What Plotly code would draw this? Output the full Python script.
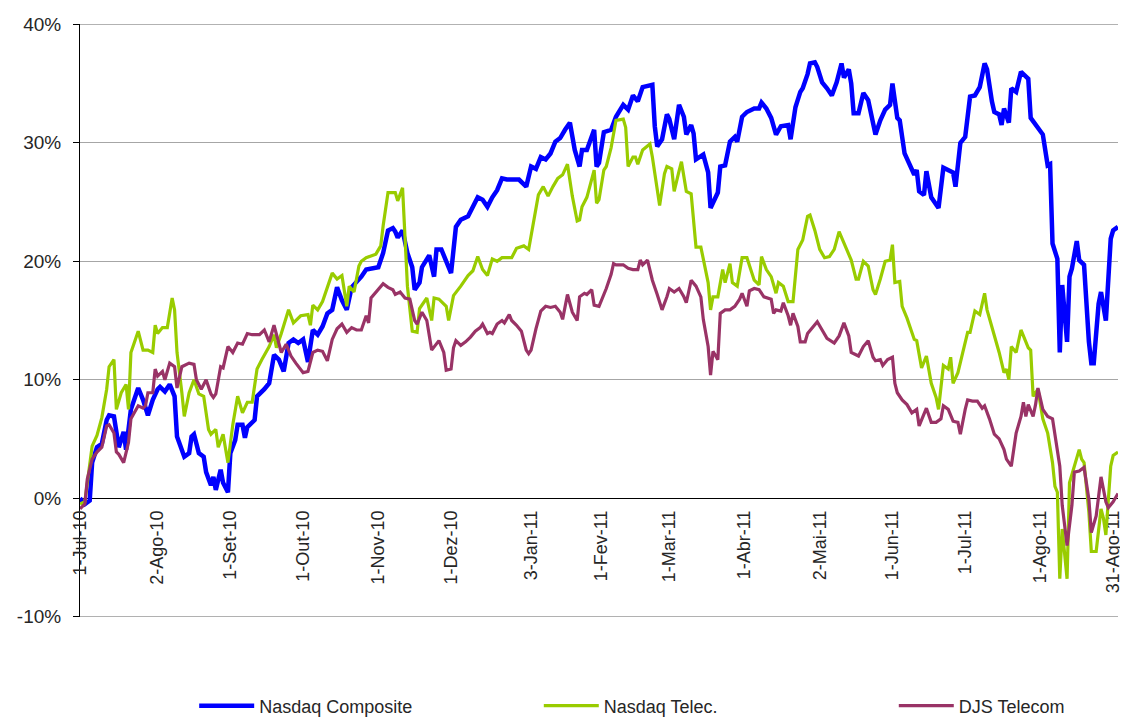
import datetime as dt
import plotly.graph_objects as go

START = dt.date(2010, 7, 1)

# ---------------- data (day offsets since 1-Jul-10, cumulative return in %) ----------------
composite_days = [
    0, 2, 4, 5, 7, 9, 11, 12, 14, 16,
    18, 19, 21, 24, 26, 28, 30, 32, 33, 35,
    37, 39, 40, 42, 43, 45, 46, 47, 49, 51,
    52, 54, 55, 56, 58, 59, 61, 62, 64, 65,
    67, 68, 69, 72, 73, 76, 78, 80, 82, 84,
    86, 88, 90, 92, 94, 96, 98, 100, 102, 104,
    106, 108, 110, 112, 114, 116, 118, 121, 123, 125,
    127, 129, 130, 131, 133, 135, 137, 138, 140, 141,
    144, 146, 147, 149, 151, 153, 155, 157, 160, 162,
    164, 166, 168, 170, 172, 174, 176, 179, 181, 184,
    186, 188, 190, 192, 194, 196, 198, 200, 202, 204,
    206, 207, 209, 212, 213, 214, 216, 219, 221, 224,
    226, 228, 230, 232, 236, 237, 238, 240, 242, 243,
    245, 247, 249, 250, 252, 253, 254, 257, 259, 260,
    262, 263, 264, 266, 268, 270, 271, 273, 275, 278,
    280, 281, 283, 285, 287, 289, 292, 293, 295, 297,
    298, 300, 301, 303, 304, 306, 308, 310, 312, 314,
    315, 317, 318, 319, 321, 323, 325, 327, 328, 330,
    332, 334, 335, 337, 338, 340, 342, 344, 345, 346,
    348, 349, 351, 353, 354, 356, 358, 360, 361, 363,
    365, 367, 369, 371, 373, 374, 376, 377, 379, 380,
    381, 383, 384, 386, 388, 391, 392, 393, 396, 397,
    399, 400, 401, 403, 404, 405, 407, 408, 409, 411,
    412, 414, 416, 417, 418, 420, 421, 423, 425, 426,
    428,
]
nasdaq_composite = [
    0.0, -0.5, -0.2, 3.0, 4.3, 4.6, 6.6, 7.0, 6.9, 4.3,
    5.6, 4.1, 7.5, 9.3, 8.3, 7.0, 8.3, 9.2, 9.4, 9.0,
    9.6, 8.6, 5.2, 4.1, 3.5, 3.8, 5.2, 5.4, 3.8, 3.5,
    2.2, 1.1, 1.8, 0.7, 2.4, 1.3, 0.5, 3.8, 4.9, 6.2,
    6.2, 5.1, 6.0, 6.6, 8.6, 9.2, 9.7, 12.1, 11.7, 10.7,
    13.1, 13.4, 13.1, 13.4, 11.5, 14.2, 13.8, 14.5, 15.6, 15.9,
    17.8, 16.7, 15.9, 17.8, 18.2, 18.7, 19.3, 19.4, 19.5, 20.7,
    22.6, 22.8, 22.5, 22.0, 22.6, 20.7, 19.5, 17.6, 18.2, 19.5,
    20.5, 18.7, 21.0, 21.0, 20.1, 19.0, 22.9, 23.5, 23.8, 24.6,
    25.4, 25.2, 24.6, 25.4, 26.0, 27.0, 26.9, 26.9, 26.9, 26.3,
    28.0, 27.8, 28.8, 28.6, 29.1, 30.1, 30.4, 31.1, 31.7, 29.4,
    28.0, 29.4, 29.4, 31.1, 28.0, 28.3, 30.9, 31.1, 32.2, 33.2,
    32.8, 34.0, 33.5, 34.7, 34.9, 31.4, 29.7, 30.3, 32.4, 32.0,
    30.3, 33.2, 32.2, 30.7, 31.5, 30.8, 28.6, 29.0, 27.5, 24.5,
    25.4, 25.8, 28.0, 28.1, 30.1, 30.5, 30.1, 32.2, 32.6, 32.9,
    32.9, 33.4, 32.9, 32.1, 30.7, 31.4, 31.5, 30.3, 33.0, 34.3,
    34.6, 35.8, 36.7, 36.8, 36.4, 35.1, 34.6, 34.0, 35.1, 36.7,
    35.5, 36.2, 35.0, 32.5, 32.5, 34.2, 33.6, 31.7, 30.7, 31.9,
    32.8, 33.2, 35.0, 32.1, 31.9, 29.1, 28.3, 27.3, 27.7, 25.9,
    25.6, 27.6, 25.4, 24.8, 24.5, 27.9, 27.7, 27.5, 26.3, 30.0,
    30.5, 33.9, 34.0, 34.7, 36.7, 36.2, 33.5, 32.6, 32.4, 31.5,
    32.9, 31.7, 34.6, 34.3, 36.0, 35.4, 32.1, 31.8, 31.0, 30.7,
    28.1, 28.2, 21.5, 20.2, 12.3, 18.0, 13.2, 18.7, 19.4, 21.7,
    20.1, 19.7, 13.2, 11.4, 11.4, 16.4, 17.4, 15.0, 21.9, 22.6,
    22.9,
]

telec_days = [
    0, 2, 5, 7, 9, 11, 12, 14, 15, 17,
    19, 20, 21, 24, 26, 28, 30, 31, 32, 34,
    36, 38, 39, 40, 42, 43, 45, 47, 49, 51,
    53, 54, 56, 57, 59, 61, 63, 65, 67, 69,
    71, 73, 75, 78, 80, 81, 83, 86, 88, 91,
    94, 95, 96, 98, 100, 102, 104, 106, 108, 110,
    111, 113, 115, 116, 118, 122, 124, 125, 127, 129,
    130, 131, 133, 134, 135, 137, 139, 140, 143, 145,
    146, 148, 151, 152, 154, 157, 160, 162, 164, 166,
    168, 170, 172, 174, 178, 180, 183, 185, 187, 189,
    191, 193, 195, 197, 199, 201, 203, 205, 206, 207,
    209, 212, 213, 214, 216, 217, 219, 221, 224, 225,
    226, 228, 229, 230, 232, 235, 236, 238, 239, 241,
    242, 244, 245, 247, 248, 250, 252, 254, 256, 259,
    260, 261, 263, 265, 266, 268, 269, 271, 272, 273,
    275, 278, 280, 281, 283, 285, 287, 288, 290, 292,
    294, 296, 298, 300, 301, 303, 305, 307, 309, 311,
    313, 315, 318, 320, 321, 323, 325, 327, 328, 330,
    332, 334, 335, 336, 338, 339, 341, 344, 345, 347,
    349, 351, 353, 354, 356, 358, 359, 360, 362, 364,
    366, 367, 369, 371, 373, 374, 377, 379, 381, 382,
    383, 384, 386, 388, 391, 392, 393, 395, 397, 399,
    401, 402, 403, 404, 405, 407, 408, 410, 412, 413,
    414, 416, 417, 419, 421, 422, 423, 425, 426, 428,
]
nasdaq_telec = [
    -0.5, -0.3, 4.4, 5.3, 6.8, 9.2, 11.1, 11.7, 7.5, 8.9,
    9.6, 7.5, 12.3, 14.1, 12.5, 12.5, 12.3, 14.6, 13.9, 14.4,
    14.4, 16.9, 15.9, 12.3, 8.9, 6.9, 8.9, 10.0, 8.8, 8.6,
    5.8, 5.4, 5.8, 4.3, 5.4, 3.0, 6.2, 8.6, 7.2, 8.1,
    8.1, 10.9, 11.7, 12.8, 13.8, 12.7, 13.9, 15.9, 14.8, 15.4,
    15.5, 14.6, 16.3, 15.9, 16.6, 17.9, 19.0, 18.5, 18.8, 16.2,
    17.9, 17.4, 19.6, 20.0, 20.3, 20.6, 21.3, 23.0, 25.8, 25.8,
    25.8, 25.1, 26.2, 22.1, 17.9, 14.1, 14.0, 16.0, 16.9, 15.0,
    16.9, 16.8, 16.2, 15.0, 17.1, 17.9, 18.8, 19.2, 20.4, 19.3,
    18.8, 20.2, 20.0, 20.3, 20.3, 21.1, 21.3, 21.0, 23.2, 25.6,
    26.3, 25.5, 26.3, 27.0, 27.3, 28.2, 25.5, 23.4, 23.5, 24.6,
    25.4, 27.7, 24.9, 25.2, 27.7, 28.0, 29.6, 31.9, 32.0, 31.3,
    28.0, 28.8, 28.8, 28.2, 29.4, 29.9, 28.8, 26.3, 24.7, 27.4,
    28.0, 27.8, 25.9, 27.6, 28.4, 25.9, 25.7, 21.2, 21.2, 18.2,
    15.9, 17.0, 17.0, 19.3, 18.2, 19.8, 18.2, 17.9, 19.0, 20.3,
    20.3, 18.4, 18.0, 20.4, 19.3, 18.7, 17.3, 18.2, 17.9, 16.6,
    16.6, 21.0, 21.8, 23.8, 23.9, 22.6, 21.0, 20.3, 20.4, 21.0,
    22.5, 21.5, 20.1, 18.5, 18.5, 20.0, 19.6, 17.6, 17.2, 18.5,
    20.0, 20.1, 21.4, 18.2, 18.3, 16.2, 15.2, 13.4, 13.3, 11.0,
    12.0, 9.7, 8.5, 7.5, 11.2, 10.9, 11.9, 9.7, 10.6, 12.3,
    14.0, 14.0, 15.8, 15.5, 17.3, 15.9, 13.8, 12.3, 10.6, 10.9,
    10.0, 12.8, 12.3, 14.2, 12.7, 12.5, 8.6, 9.2, 6.7, 5.5,
    3.0, 1.0, 0.5, -6.8, -2.6, -6.8, 1.3, 2.7, 4.1, 3.3,
    3.0, -1.2, -4.5, -4.5, -0.9, -1.7, -3.1, 2.7, 3.6, 3.9,
]

djs_days = [
    0, 2, 3, 5, 7, 9, 11, 12, 14, 15,
    16, 18, 20, 21, 24, 26, 27, 28, 30, 31,
    32, 34, 35, 37, 39, 40, 42, 45, 47, 48,
    50, 52, 54, 55, 56, 58, 59, 61, 63, 65,
    67, 69, 71, 74, 76, 78, 80, 81, 83, 85,
    87, 89, 92, 94, 96, 98, 100, 102, 104, 106,
    108, 110, 112, 114, 116, 118, 119, 120, 122, 125,
    127, 129, 130, 132, 134, 136, 138, 139, 141, 143,
    145, 147, 148, 150, 151, 153, 154, 155, 157, 159,
    161, 163, 165, 166, 168, 169, 170, 172, 174, 175,
    177, 178, 180, 182, 184, 185, 186, 188, 190, 192,
    194, 196, 198, 199, 201, 203, 205, 206, 208, 209,
    211, 212, 214, 217, 219, 220, 221, 224, 226, 228,
    230, 231, 232, 234, 235, 236, 238, 240, 242, 243,
    245, 247, 249, 250, 252, 254, 256, 257, 259, 260,
    261, 263, 264, 266, 268, 270, 272, 273, 275, 276,
    278, 280, 282, 285, 286, 287, 289, 290, 292, 293,
    294, 296, 297, 299, 300, 302, 304, 306, 308, 311,
    313, 315, 317, 318, 321, 323, 325, 327, 328, 330,
    331, 333, 335, 336, 337, 339, 341, 343, 345, 346,
    348, 349, 351, 353, 355, 356, 358, 360, 362, 363,
    365, 366, 368, 370, 372, 373, 375, 377, 379, 381,
    382, 384, 386, 388, 389, 390, 391, 393, 394, 395,
    397, 399, 401, 403, 404, 405, 407, 409, 410, 412,
    414, 416, 417, 419, 421, 423, 424, 426, 428,
]
djs_telecom = [
    -0.9, -0.5, 1.6, 3.3, 3.9, 4.3, 6.1, 6.2, 5.5, 3.9,
    3.7, 3.0, 4.7, 6.7, 7.8, 7.6, 7.8, 8.9, 8.9, 10.9,
    10.3, 10.7, 10.0, 11.4, 11.1, 9.3, 11.1, 11.4, 11.3, 10.0,
    9.2, 10.0, 8.8, 8.5, 8.8, 11.1, 11.0, 12.8, 12.3, 13.1,
    13.0, 13.9, 13.8, 13.8, 14.2, 13.2, 14.6, 13.8, 12.3, 13.0,
    12.0, 11.4, 10.6, 10.7, 12.3, 12.5, 12.4, 11.6, 13.4, 14.3,
    14.7, 14.0, 14.4, 14.2, 14.2, 15.4, 14.8, 16.9, 17.4, 18.1,
    17.8, 17.6, 17.2, 17.4, 16.9, 16.8, 15.0, 14.7, 15.7, 15.0,
    12.5, 13.0, 13.3, 12.3, 10.8, 10.9, 12.7, 13.3, 12.9, 13.2,
    13.6, 14.1, 14.4, 14.7, 13.9, 14.0, 13.9, 14.7, 15.0, 14.8,
    15.5, 15.0, 14.6, 14.1, 12.5, 12.2, 12.5, 14.3, 15.8, 16.2,
    16.1, 16.2, 15.7, 15.1, 17.2, 15.7, 15.0, 17.0, 17.3, 17.2,
    17.6, 16.3, 16.2, 17.7, 18.9, 19.8, 19.7, 19.7, 19.4, 19.3,
    19.3, 20.1, 19.7, 20.1, 19.3, 18.4, 17.2, 15.9, 17.0, 17.7,
    17.4, 17.7, 17.0, 16.5, 18.4, 17.9, 17.0, 15.1, 12.8, 10.4,
    12.4, 11.7, 15.6, 15.9, 15.9, 16.2, 16.8, 17.3, 16.2, 17.5,
    17.7, 17.6, 17.0, 16.8, 15.6, 15.9, 15.8, 16.5, 15.4, 14.6,
    15.6, 14.5, 13.2, 13.2, 13.9, 14.4, 14.9, 14.2, 13.5, 13.1,
    13.7, 14.8, 13.7, 12.3, 12.0, 12.8, 13.3, 11.9, 11.6, 11.7,
    11.2, 11.7, 11.9, 9.7, 8.9, 8.3, 7.9, 7.2, 7.5, 6.1,
    7.2, 7.6, 6.4, 6.4, 6.7, 7.8, 7.5, 6.5, 6.4, 5.4,
    7.5, 8.3, 8.2, 8.2, 7.6, 7.8, 6.7, 5.4, 5.0, 4.1,
    3.3, 2.7, 5.5, 6.9, 8.1, 6.9, 7.9, 6.9, 7.9, 9.3,
    7.5, 6.9, 6.7, 4.1, 2.7, -0.6, -4.0, -0.6, 2.2, 2.3,
    2.6, -0.1, -2.9, -1.5, 1.8, -0.3, -0.8, -0.3, 0.4,
]

tick_dates = [
    "2010-07-01", "2010-08-02", "2010-09-01", "2010-10-01", "2010-11-01",
    "2010-12-01", "2011-01-03", "2011-02-01", "2011-03-01", "2011-04-01",
    "2011-05-02", "2011-06-01", "2011-07-01", "2011-08-01", "2011-08-31",
]
tick_labels = [
    "1-Jul-10", "2-Ago-10", "1-Set-10", "1-Out-10", "1-Nov-10",
    "1-Dez-10", "3-Jan-11", "1-Fev-11", "1-Mar-11", "1-Abr-11",
    "2-Mai-11", "1-Jun-11", "1-Jul-11", "1-Ago-11", "31-Ago-11",
]
y_ticks = [-10, 0, 10, 20, 30, 40]
y_labels = ["-10%", "0%", "10%", "20%", "30%", "40%"]

series = [
    ("Nasdaq Composite", composite_days, nasdaq_composite, "#0000FF", 4.5, "legend", 0.110),
    ("Nasdaq Telec.", telec_days, nasdaq_telec, "#99CC00", 3.2, "legend2", 0.442),
    ("DJS Telecom", djs_days, djs_telecom, "#993366", 3.2, "legend3", 0.784),
]

FONT = "Liberation Sans, Arial, sans-serif"
TXT = "#262626"
GRID = "#a6a6a6"

fig = go.Figure()
legend_cfg = {}
for name, days, vals, color, width, leg, lx in series:
    assert len(days) == len(vals), name
    xs = [(START + dt.timedelta(days=d)).isoformat() for d in days]
    fig.add_trace(go.Scatter(
        x=xs, y=vals, mode="lines", name=name, legend=leg,
        line=dict(color=color, width=width),
    ))
    legend_cfg[leg] = dict(
        orientation="h", x=lx, y=-0.15, xanchor="left", yanchor="middle",
        font=dict(family=FONT, size=18, color=TXT),
        itemwidth=55, bgcolor="rgba(0,0,0,0)", borderwidth=0,
    )

# the page body adds an 8px margin, so the figure is sized to fit inside it
fig.update_layout(
    width=1120, height=710,
    margin=dict(l=72, r=10, t=16, b=101, autoexpand=False),
    paper_bgcolor="white", plot_bgcolor="white",
    font=dict(family=FONT, size=17, color=TXT),
    showlegend=True,
    **legend_cfg,
)

# gridlines at the two range edges (top and bottom of the plot area)
for yv in (y_ticks[0], y_ticks[-1]):
    fig.add_shape(
        type="line", xref="paper", x0=0, x1=1, yref="y", y0=yv, y1=yv,
        line=dict(color=GRID, width=1), layer="below",
    )

fig.update_xaxes(
    type="date",
    range=["2010-07-01", "2011-09-02"],
    tickmode="array", tickvals=tick_dates, ticktext=tick_labels,
    tickangle=-90, tickfont=dict(family=FONT, size=18, color=TXT),
    ticklabelstandoff=4,
    showgrid=False, zeroline=False,
    showline=True, linecolor="black", linewidth=1,
    ticks="", anchor="free", position=0.2,
    layer="below traces", automargin=False,
)
fig.update_yaxes(
    range=[-10.03, 40.03],
    tickmode="array", tickvals=y_ticks, ticktext=y_labels,
    tickfont=dict(family=FONT, size=19, color=TXT),
    ticklabelstandoff=8,
    showgrid=True, gridcolor=GRID, gridwidth=1,
    zeroline=False,
    showline=True, linecolor="black", linewidth=1,
    ticks="outside", ticklen=6, tickcolor="black",
    layer="below traces", automargin=False,
)

fig.write_html("out.html")
